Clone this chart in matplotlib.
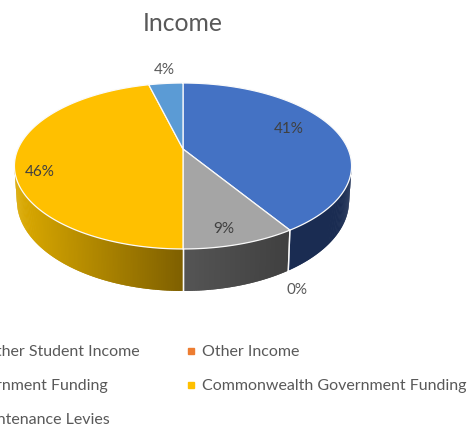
import matplotlib
matplotlib.use('Agg')
import matplotlib.pyplot as plt
import numpy as np

plt.rcParams['font.family'] = ['Lato', 'DejaVu Sans']

title = 'Income'
categories = ['Other Student Income', 'Other Income', 'State Government Funding',
              'Commonwealth Government Funding', 'Maintenance Levies']
values = [41, 0, 9, 46, 4]
labels = ['41%', '0%', '9%', '46%', '4%']

colors = ['#4472C4', '#ED7D31', '#A5A5A5', '#FFC000', '#5B9BD5']
# wall colours, start and end of the slice going clockwise
wall_colors = [('#1A2C52', '#1A2C52'), ('#9E4A16', '#9E4A16'), ('#404040', '#555555'),
               ('#7F6000', '#DDAB00'), ('#2E75B6', '#2E75B6')]
label_xy = [(289, 129), (297, 290), (224, 229), (40, 172), (164, 70)]
label_colors = ['#404040', '#595959', '#404040', '#404040', '#595959']

# the tilted pie seen in perspective
cx, apex_y = 183, 149
a, b, k = 165, 79.5, 0.2048
depth0 = 33.4


def top_rim(deg):
    t = np.radians(deg)
    u, v = np.sin(t), np.cos(t)
    return cx + a * u / (1 + k * v), apex_y - b * v / (1 + k * v)


def bottom_rim(deg):
    x, y = top_rim(deg)
    v = np.cos(np.radians(deg))
    return cx + (x - cx) * 0.985, y + depth0 / (1 + k * v)


def mix(c1, c2, f):
    c1 = np.array(matplotlib.colors.to_rgb(c1))
    c2 = np.array(matplotlib.colors.to_rgb(c2))
    return c1 + (c2 - c1) * f


fig = plt.figure(figsize=(4.69, 4.28), dpi=100)
ax = fig.add_axes([0, 0, 1, 1])
ax.set_xlim(0, 469)
ax.set_ylim(428, 0)
ax.axis('off')

edges = np.concatenate([[0], np.cumsum(values)]) * 360 / sum(values)
vis_from = np.degrees(np.arccos(-k))
vis_to = 360 - vis_from

# side walls, each strip overlaps the next one so no seams show
for i in range(len(values)):
    lo, hi = max(edges[i], vis_from), min(edges[i + 1], vis_to)
    if hi <= lo:
        continue
    steps = np.linspace(lo, hi, int(hi - lo) * 2 + 2)
    x_lo, x_hi = top_rim(lo)[0], top_rim(hi)[0]
    for j in range(len(steps) - 1):
        s0, s1 = steps[j], steps[min(j + 2, len(steps) - 1)]
        x0, y0 = top_rim(s0)
        x1, y1 = top_rim(s1)
        x2, y2 = bottom_rim(s1)
        x3, y3 = bottom_rim(s0)
        c = mix(wall_colors[i][0], wall_colors[i][1], (x0 - x_lo) / (x_hi - x_lo))
        ax.fill([x0, x1, x2, x3], [y0, y1, y2, y3], color=c, lw=0)
    for e in [lo, hi]:
        if e in (vis_from, vis_to):
            continue
        xt, yt = top_rim(e)
        xb, yb = bottom_rim(e)
        ax.plot([xt, xb], [yt, yb], color='white', lw=1, alpha=0.85)

# top face
for i in range(len(values)):
    if values[i] == 0:
        continue
    th = np.linspace(edges[i], edges[i + 1], 200)
    xs, ys = top_rim(th)
    ax.fill(np.r_[cx, xs], np.r_[apex_y, ys], facecolor=colors[i],
            edgecolor='#FAFAFA', lw=0.9, joinstyle='round')

# data labels
for txt, (x, y), c in zip(labels, label_xy, label_colors):
    ax.text(x, y, txt, color=c, fontsize=11, ha='center', va='center')

ax.text(182.5, 23, title, color='#595959', fontsize=17.8, ha='center', va='center')

# legend, the left column runs off the picture
legend_x = [140, 202, 108, 202, 110]
legend_y = [352, 352, 386, 386, 420]
for i, name in enumerate(categories):
    if legend_x[i] == 202:
        ax.text(legend_x[i], legend_y[i], name, color='#595959', fontsize=11.5,
                ha='left', va='center')
        ax.plot(191, legend_y[i] - 1, marker='s', ms=4, color=colors[i], ls='none')
    else:
        ax.text(legend_x[i], legend_y[i], name, color='#595959', fontsize=11.5,
                ha='right', va='center')

fig.savefig('out.png', dpi=100)
